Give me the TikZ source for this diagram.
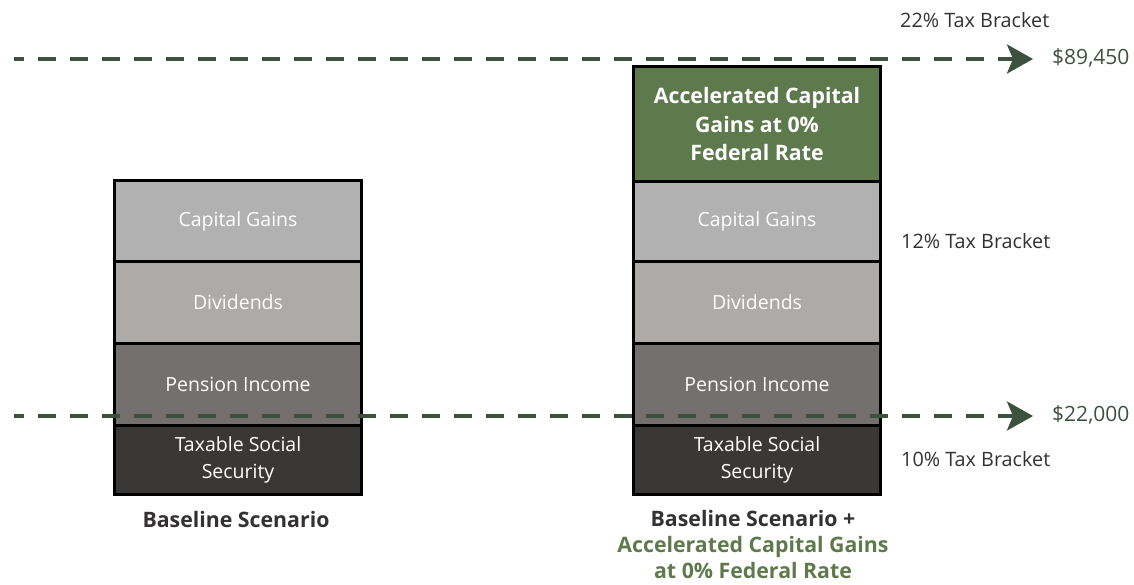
\documentclass[tikz,border=0pt]{standalone}
\usepackage{fontspec}
\setmainfont{Open Sans}
\usetikzlibrary{arrows.meta}
\definecolor{cgray}{HTML}{B1B1B1}
\definecolor{dgray}{HTML}{AEAAA8}
\definecolor{pgray}{HTML}{747070}
\definecolor{sgray}{HTML}{3A3836}
\definecolor{accg}{HTML}{5E7A4C}
\definecolor{lineg}{HTML}{3E5140}
\definecolor{txt}{HTML}{333132}
\tikzset{
  seg/.style={draw=black, line width=3pt, minimum width=247pt, inner sep=0pt, anchor=north west, text=white, font=\fontsize{19.5}{27}\selectfont, align=center},
  brk/.style={font=\fontsize{19.8}{22}\selectfont, text=txt, anchor=west, inner sep=0pt},
  val/.style={font=\fontsize{21}{22}\selectfont, text=lineg, anchor=west, inner sep=0pt},
  lbl/.style={font=\bfseries\fontsize{21.3}{26}\selectfont, text=txt, align=center, inner sep=0pt},
  level/.style={draw=lineg, line width=4pt, dash pattern=on 18pt off 14pt, dash phase=8pt, -{Stealth[length=26pt, width=29pt, inset=6pt]}},
}
\begin{document}
\begin{tikzpicture}[x=1pt,y=-1pt]
\useasboundingbox (0,0) rectangle (1134,584);
% left stack
\node[seg, fill=cgray, minimum height=81pt] (lcg) at (113,179) {Capital Gains};
\node[seg, fill=dgray, minimum height=82pt] (ldv) at (113,260) {Dividends};
\node[seg, fill=pgray, minimum height=82pt] (lpi) at (113,342) {Pension Income};
\node[seg, fill=sgray, minimum height=69pt] (lss) at (113,424) {Taxable Social\\Security};
% right stack
\node[seg, fill=accg, minimum height=115pt, font=\bfseries\fontsize{21.3}{28.5}\selectfont, text depth=-4pt] (racc) at (632,65) {Accelerated Capital\\Gains at 0\%\\Federal Rate};
\node[seg, fill=cgray, minimum height=80pt] (rcg) at (632,180) {Capital Gains};
\node[seg, fill=dgray, minimum height=82pt] (rdv) at (632,260) {Dividends};
\node[seg, fill=pgray, minimum height=82pt] (rpi) at (632,342) {Pension Income};
\node[seg, fill=sgray, minimum height=69pt] (rss) at (632,424) {Taxable Social\\Security};
% level lines
\coordinate (t0) at (14,59);
\coordinate (t1) at (1033,59);
\coordinate (b0) at (14,416);
\coordinate (b1) at (1033,416);
\draw[level] (t0) -- (t1);
\draw[level] (b0) -- (b1);
% right texts
\node[brk] (b22) at (900,20) {22\% Tax Bracket};
\node[val] (v89) at (1052,58) {\$89,450};
\node[brk] (b12) at (901,241) {12\% Tax Bracket};
\node[val] (v22) at (1052,415) {\$22,000};
\node[brk] (b10) at (901,459) {10\% Tax Bracket};
% captions
\node[lbl] (lcap) at (236,520) {Baseline Scenario};
\node[lbl] (rcap) at (753,545) {Baseline Scenario +\\\textcolor{accg}{Accelerated Capital Gains}\\\textcolor{accg}{at 0\% Federal Rate}};
\end{tikzpicture}
\end{document}
